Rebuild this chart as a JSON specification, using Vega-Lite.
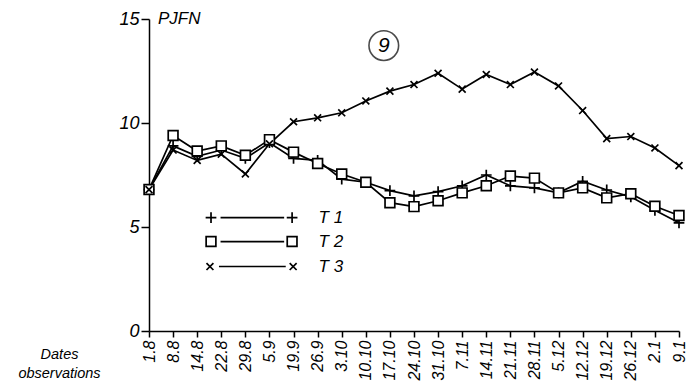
{
  "$schema": "https://vega.github.io/schema/vega-lite/v6.json",
  "width": 530,
  "height": 312,
  "autosize": "none",
  "padding": {"left": 149, "top": 19, "right": 12, "bottom": 51},
  "background": "white",
  "config": {
    "view": {"stroke": null},
    "font": "Liberation Sans",
    "axis": {"domain": true, "domainColor": "black", "tickColor": "black", "labelColor": "black", "titleColor": "black", "grid": false, "domainWidth": 1.5, "tickWidth": 1.5}
  },
  "datasets": {
    "series": [
      {"date": "1.8", "t": "T 1", "v": 6.8}, {"date": "8.8", "t": "T 1", "v": 8.9}, {"date": "14.8", "t": "T 1", "v": 8.4}, {"date": "22.8", "t": "T 1", "v": 8.7}, {"date": "29.8", "t": "T 1", "v": 8.3}, {"date": "5.9", "t": "T 1", "v": 9.05}, {"date": "19.9", "t": "T 1", "v": 8.3}, {"date": "26.9", "t": "T 1", "v": 8.2}, {"date": "3.10", "t": "T 1", "v": 7.3}, {"date": "10.10", "t": "T 1", "v": 7.15}, {"date": "17.10", "t": "T 1", "v": 6.75}, {"date": "24.10", "t": "T 1", "v": 6.5}, {"date": "31.10", "t": "T 1", "v": 6.7}, {"date": "7.11", "t": "T 1", "v": 6.98}, {"date": "14.11", "t": "T 1", "v": 7.5}, {"date": "21.11", "t": "T 1", "v": 6.98}, {"date": "28.11", "t": "T 1", "v": 6.88}, {"date": "5.12", "t": "T 1", "v": 6.64}, {"date": "12.12", "t": "T 1", "v": 7.2}, {"date": "19.12", "t": "T 1", "v": 6.78}, {"date": "26.12", "t": "T 1", "v": 6.45}, {"date": "2.1", "t": "T 1", "v": 5.8}, {"date": "9.1", "t": "T 1", "v": 5.2},
      {"date": "1.8", "t": "T 2", "v": 6.8}, {"date": "8.8", "t": "T 2", "v": 9.4}, {"date": "14.8", "t": "T 2", "v": 8.65}, {"date": "22.8", "t": "T 2", "v": 8.9}, {"date": "29.8", "t": "T 2", "v": 8.45}, {"date": "5.9", "t": "T 2", "v": 9.2}, {"date": "19.9", "t": "T 2", "v": 8.6}, {"date": "26.9", "t": "T 2", "v": 8.05}, {"date": "3.10", "t": "T 2", "v": 7.55}, {"date": "10.10", "t": "T 2", "v": 7.15}, {"date": "17.10", "t": "T 2", "v": 6.17}, {"date": "24.10", "t": "T 2", "v": 5.98}, {"date": "31.10", "t": "T 2", "v": 6.26}, {"date": "7.11", "t": "T 2", "v": 6.64}, {"date": "14.11", "t": "T 2", "v": 6.98}, {"date": "21.11", "t": "T 2", "v": 7.45}, {"date": "28.11", "t": "T 2", "v": 7.35}, {"date": "5.12", "t": "T 2", "v": 6.64}, {"date": "12.12", "t": "T 2", "v": 6.88}, {"date": "19.12", "t": "T 2", "v": 6.4}, {"date": "26.12", "t": "T 2", "v": 6.6}, {"date": "2.1", "t": "T 2", "v": 6.0}, {"date": "9.1", "t": "T 2", "v": 5.55},
      {"date": "1.8", "t": "T 3", "v": 6.8}, {"date": "8.8", "t": "T 3", "v": 8.7}, {"date": "14.8", "t": "T 3", "v": 8.2}, {"date": "22.8", "t": "T 3", "v": 8.5}, {"date": "29.8", "t": "T 3", "v": 7.55}, {"date": "5.9", "t": "T 3", "v": 9.0}, {"date": "19.9", "t": "T 3", "v": 10.06}, {"date": "26.9", "t": "T 3", "v": 10.25}, {"date": "3.10", "t": "T 3", "v": 10.49}, {"date": "10.10", "t": "T 3", "v": 11.06}, {"date": "17.10", "t": "T 3", "v": 11.53}, {"date": "24.10", "t": "T 3", "v": 11.85}, {"date": "31.10", "t": "T 3", "v": 12.39}, {"date": "7.11", "t": "T 3", "v": 11.63}, {"date": "14.11", "t": "T 3", "v": 12.33}, {"date": "21.11", "t": "T 3", "v": 11.85}, {"date": "28.11", "t": "T 3", "v": 12.45}, {"date": "5.12", "t": "T 3", "v": 11.78}, {"date": "12.12", "t": "T 3", "v": 10.6}, {"date": "19.12", "t": "T 3", "v": 9.25}, {"date": "26.12", "t": "T 3", "v": 9.35}, {"date": "2.1", "t": "T 3", "v": 8.8}, {"date": "9.1", "t": "T 3", "v": 7.95}
    ],
    "key": [
      {"t": "T 1", "name": "T  1", "a": 0.117, "b": 0.270, "l1": 0.135, "l2": 0.255, "txt": 0.320, "v": 5.45},
      {"t": "T 2", "name": "T  2", "a": 0.117, "b": 0.270, "l1": 0.135, "l2": 0.255, "txt": 0.320, "v": 4.3},
      {"t": "T 3", "name": "T  3", "a": 0.115, "b": 0.272, "l1": 0.132, "l2": 0.258, "txt": 0.320, "v": 3.1}
    ],
    "notes": [
      {"label": "9", "x": 0.443, "v": 13.72, "kind": "badge"},
      {"label": "PJFN", "x": 0.017, "v": 15, "kind": "unit"}
    ]
  },
  "layer": [
    {
      "data": {"name": "series"},
      "encoding": {
        "x": {
          "field": "date", "type": "ordinal",
          "scale": {"type": "point", "padding": 0, "domain": ["1.8", "8.8", "14.8", "22.8", "29.8", "5.9", "19.9", "26.9", "3.10", "10.10", "17.10", "24.10", "31.10", "7.11", "14.11", "21.11", "28.11", "5.12", "12.12", "19.12", "26.12", "2.1", "9.1"]},
          "axis": {
            "domain": true,
            "title": ["Dates", "observations"], "titleFontSize": 14.5, "titleFontStyle": "italic", "titleFontWeight": "normal",
            "titleAlign": "center", "titleBaseline": "top", "titleX": -90, "titleY": 16, "titleLineHeight": 19, "titleAngle": 0,
            "labelAngle": -90, "labelFontSize": 16, "labelFontStyle": "italic", "labelPadding": 3, "tickSize": 6, "labelOverlap": false
          }
        },
        "y": {
          "field": "v", "type": "quantitative",
          "scale": {"domain": [0, 15], "nice": false, "zero": true},
          "axis": {"domain": true, "title": null, "values": [0, 5, 10, 15], "labelFontSize": 18, "labelFontStyle": "italic", "tickSize": 8, "labelPadding": 2}
        }
      },
      "layer": [
        {"mark": {"type": "line", "color": "black", "strokeWidth": 1.7}, "encoding": {"detail": {"field": "t"}}},
        {
          "mark": {"type": "point", "filled": false, "fill": "white", "fillOpacity": 1, "stroke": "black", "strokeWidth": 1.7, "opacity": 1},
          "encoding": {
            "shape": {"field": "t", "type": "nominal", "scale": {"domain": ["T 1", "T 2", "T 3"], "range": ["M-1,0H1M0,-1V1", "square", "M-0.8,-0.8L0.8,0.8M-0.8,0.8L0.8,-0.8"]}, "legend": null},
            "size": {"field": "t", "type": "nominal", "scale": {"domain": ["T 1", "T 2", "T 3"], "range": [115, 75, 120]}, "legend": null}
          }
        }
      ]
    },
    {
      "data": {"name": "key"},
      "encoding": {
        "y": {"field": "v", "type": "quantitative", "axis": null}
      },
      "layer": [
        {"mark": {"type": "rule", "color": "black", "strokeWidth": 1.7},
         "encoding": {"x": {"field": "l1", "type": "quantitative", "scale": {"domain": [0, 1]}, "axis": null}, "x2": {"field": "l2"}}},
        {"mark": {"type": "point", "filled": false, "fill": "white", "fillOpacity": 1, "stroke": "black", "strokeWidth": 1.7, "opacity": 1},
         "encoding": {"x": {"field": "a", "type": "quantitative", "scale": {"domain": [0, 1]}, "axis": null},
           "shape": {"field": "t", "type": "nominal", "legend": null},
           "size": {"field": "t", "type": "nominal", "legend": null}}},
        {"mark": {"type": "point", "filled": false, "fill": "white", "fillOpacity": 1, "stroke": "black", "strokeWidth": 1.7, "opacity": 1},
         "encoding": {"x": {"field": "b", "type": "quantitative", "scale": {"domain": [0, 1]}, "axis": null},
           "shape": {"field": "t", "type": "nominal", "legend": null},
           "size": {"field": "t", "type": "nominal", "legend": null}}},
        {"mark": {"type": "text", "align": "left", "baseline": "middle", "fontSize": 17, "fontStyle": "italic", "color": "black"},
         "encoding": {"x": {"field": "txt", "type": "quantitative", "scale": {"domain": [0, 1]}, "axis": null}, "text": {"field": "name"}}}
      ]
    },
    {
      "data": {"name": "notes"},
      "encoding": {
        "x": {"field": "x", "type": "quantitative", "scale": {"domain": [0, 1]}, "axis": null},
        "y": {"field": "v", "type": "quantitative", "axis": null}
      },
      "layer": [
        {"transform": [{"filter": "datum.kind === 'badge'"}],
         "mark": {"type": "point", "shape": "circle", "size": 880, "filled": false, "stroke": "black", "strokeWidth": 1.6}},
        {"transform": [{"filter": "datum.kind === 'badge'"}],
         "mark": {"type": "text", "align": "center", "baseline": "middle", "fontSize": 21, "fontStyle": "italic", "color": "black"},
         "encoding": {"text": {"field": "label"}}},
        {"transform": [{"filter": "datum.kind === 'unit'"}],
         "mark": {"type": "text", "align": "left", "baseline": "middle", "fontSize": 17, "fontStyle": "italic", "color": "black"},
         "encoding": {"text": {"field": "label"}}}
      ]
    }
  ],
  "resolve": {"scale": {"x": "independent"}, "axis": {"y": "independent"}}
}
